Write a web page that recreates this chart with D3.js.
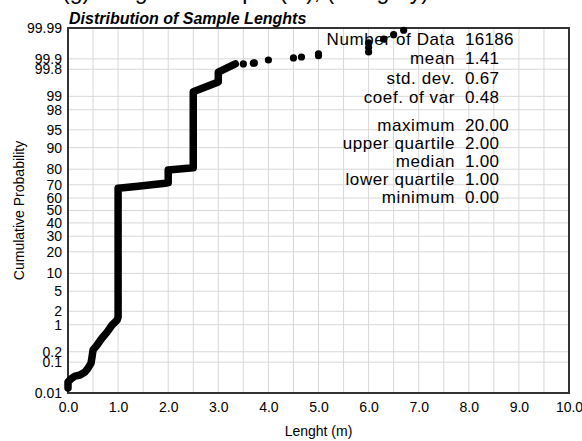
<!DOCTYPE html>
<html>
<head>
<meta charset="utf-8">
<script src="https://cdn.jsdelivr.net/npm/d3@7"></script>
<style>
  body { margin: 0; background: #fff; }
  svg text { font-family: "Liberation Sans", Arial, Helvetica, sans-serif; fill: #000; }
</style>
</head>
<body>
<div id="chart"></div>
<script>
// set the dimensions and margins of the graph
var margin = {top: 28, right: 13, bottom: 48, left: 68},
    width = 582 - margin.left - margin.right,
    height = 441 - margin.top - margin.bottom;

// main curve of the empirical cdf (length m, cumulative %)
var curveLen  = [0.00, 0.00, 0.08, 0.14, 0.24, 0.34, 0.40, 0.46, 0.48, 0.50, 0.58, 0.68, 0.78, 0.88, 0.98, 1.00,
                 1.00, 1.40, 1.94, 2.00, 2.00, 2.50, 2.50, 3.00, 3.00, 3.34];
var curveProb = [0.015, 0.024, 0.032, 0.037, 0.040, 0.050, 0.066, 0.094, 0.142, 0.224, 0.306, 0.469, 0.66, 0.98, 1.28, 1.50,
                 67.5, 69.0, 71.0, 71.5, 79.5, 80.8, 99.22, 99.56, 99.76, 99.86];

// isolated points of the tail
var tailLen  = [3.50, 3.70, 3.72, 4.00, 4.50, 4.66, 5.00, 5.00, 6.00, 6.00, 6.00, 6.30, 6.50, 6.70];
var tailProb = [99.859, 99.866, 99.868, 99.892, 99.906, 99.912, 99.920, 99.930, 99.938, 99.955, 99.968, 99.976, 99.983, 99.988];

var probTicks = [0.01, 0.1, 0.2, 1, 2, 5, 10, 20, 30, 40, 50, 60, 70, 80, 90, 95, 98, 99, 99.8, 99.9, 99.99];
var lenTicks = [0, 1, 2, 3, 4, 5, 6, 7, 8, 9, 10];
var lenGrid = [0.5, 1, 1.5, 2, 2.5, 3, 3.5, 4, 4.5, 5, 5.5, 6, 6.5, 7, 7.5, 8, 8.5, 9, 9.5];

var statLabels = ["Number of Data", "mean", "std. dev.", "coef. of var", "maximum", "upper quartile", "median", "lower quartile", "minimum"];
var statValues = ["16186", "1.41", "0.67", "0.48", "20.00", "2.00", "1.00", "1.00", "0.00"];

// inverse normal cdf (Acklam)
function probit(p) {
  var a = [-3.969683028665376e+01, 2.209460984245205e+02, -2.759285104469687e+02, 1.383577518672690e+02, -3.066479806614716e+01, 2.506628277459239e+00];
  var b = [-5.447609879822406e+01, 1.615858368580409e+02, -1.556989798598866e+02, 6.680131188771972e+01, -1.328068155288572e+01];
  var c = [-7.784894002430293e-03, -3.223964580411365e-01, -2.400758277161838e+00, -2.549732539343734e+00, 4.374664141464968e+00, 2.938163982698783e+00];
  var d = [7.784695709041462e-03, 3.224671290700398e-01, 2.445134137142996e+00, 3.754408661907416e+00];
  var pl = 0.02425, q, r;
  if (p < pl) {
    q = Math.sqrt(-2 * Math.log(p));
    return (((((c[0]*q+c[1])*q+c[2])*q+c[3])*q+c[4])*q+c[5]) / ((((d[0]*q+d[1])*q+d[2])*q+d[3])*q+1);
  }
  if (p > 1 - pl) {
    q = Math.sqrt(-2 * Math.log(1 - p));
    return -(((((c[0]*q+c[1])*q+c[2])*q+c[3])*q+c[4])*q+c[5]) / ((((d[0]*q+d[1])*q+d[2])*q+d[3])*q+1);
  }
  q = p - 0.5; r = q * q;
  return (((((a[0]*r+a[1])*r+a[2])*r+a[3])*r+a[4])*r+a[5])*q / (((((b[0]*r+b[1])*r+b[2])*r+b[3])*r+b[4])*r+1);
}

var root = d3.select("#chart")
  .append("svg")
    .attr("width", width + margin.left + margin.right)
    .attr("height", height + margin.top + margin.bottom);

// caption of the figure above, cut by the page edge
root.append("text")
  .attr("x", 62).attr("y", -1)
  .attr("font-size", 23)
  .text("(g) Length of sample (m), (Hungary)");

var svg = root.append("g")
    .attr("transform", "translate(" + margin.left + "," + margin.top + ")");

var x = d3.scaleLinear().domain([0, 10]).range([0, width]);
var z = d3.scaleLinear().domain([probit(0.0001), probit(0.9999)]).range([height, 0]);

// probability scale usable by d3.axisLeft
function y(p) { return z(probit(p / 100)); }
y.domain = function() { return [0.01, 99.99]; };
y.range = function() { return z.range(); };
y.copy = function() { return y; };

// grid
svg.append("g")
  .selectAll("line")
  .data(lenGrid)
  .enter()
  .append("line")
    .attr("x1", d => x(d)).attr("x2", d => x(d))
    .attr("y1", 0).attr("y2", height)
    .attr("stroke", "#d8d8d8");

svg.append("g")
  .selectAll("line")
  .data(probTicks.slice(1, -1))
  .enter()
  .append("line")
    .attr("x1", 0).attr("x2", width)
    .attr("y1", d => y(d)).attr("y2", d => y(d))
    .attr("stroke", "#d8d8d8");

// axes
var yAxis = svg.append("g")
  .call(d3.axisLeft(y).tickValues(probTicks).tickSize(0).tickPadding(6).tickFormat(d => String(d)));
yAxis.select(".domain").remove();
yAxis.selectAll("text").attr("font-size", 14).attr("font-family", null);

var xAxis = svg.append("g")
  .attr("transform", "translate(0," + height + ")")
  .call(d3.axisBottom(x).tickValues(lenTicks).tickSize(0).tickPadding(9).tickFormat(d3.format(".1f")));
xAxis.select(".domain").remove();
xAxis.selectAll("text").attr("font-size", 14).attr("font-family", null);

// frame
svg.append("rect")
  .attr("width", width).attr("height", height)
  .attr("fill", "none")
  .attr("stroke", "#333")
  .attr("stroke-width", 2);

// title
svg.append("text")
  .attr("x", 1).attr("y", -4)
  .attr("font-size", 16)
  .attr("font-weight", "bold")
  .attr("font-style", "italic")
  .text("Distribution of Sample Lenghts");

// axis labels
svg.append("text")
  .attr("text-anchor", "middle")
  .attr("x", width / 2)
  .attr("y", height + 43)
  .attr("font-size", 14)
  .text("Lenght (m)");

svg.append("text")
  .attr("text-anchor", "middle")
  .attr("transform", "rotate(-90)")
  .attr("x", -height / 2)
  .attr("y", -44)
  .attr("font-size", 14)
  .text("Cumulative Probability");

// data
var curve = curveLen.map((d, i) => [d, curveProb[i]]);
svg.append("path")
  .datum(curve)
  .attr("fill", "none")
  .attr("stroke", "#000")
  .attr("stroke-width", 7.5)
  .attr("stroke-linejoin", "round")
  .attr("stroke-linecap", "round")
  .attr("d", d3.line().x(d => x(d[0])).y(d => y(d[1])));

svg.append("g")
  .selectAll("circle")
  .data(tailLen.map((d, i) => [d, tailProb[i]]))
  .enter()
  .append("circle")
    .attr("cx", d => x(d[0]))
    .attr("cy", d => y(d[1]))
    .attr("r", 3.6)
    .attr("fill", "#000");

// statistics box: two groups of rows
function rowY(i) { return i < 4 ? 17 + i * 19.3 : 102.5 + (i - 4) * 18; }
var stats = svg.append("g").attr("font-size", 17);
stats.selectAll(".lab")
  .data(statLabels)
  .enter()
  .append("text")
    .attr("x", 387).attr("y", (d, i) => rowY(i))
    .attr("text-anchor", "end")
    .attr("letter-spacing", 0.6)
    .text(d => d);
stats.selectAll(".val")
  .data(statValues)
  .enter()
  .append("text")
    .attr("x", 397).attr("y", (d, i) => rowY(i))
    .attr("letter-spacing", 0.3)
    .text(d => d);
</script>
</body>
</html>
